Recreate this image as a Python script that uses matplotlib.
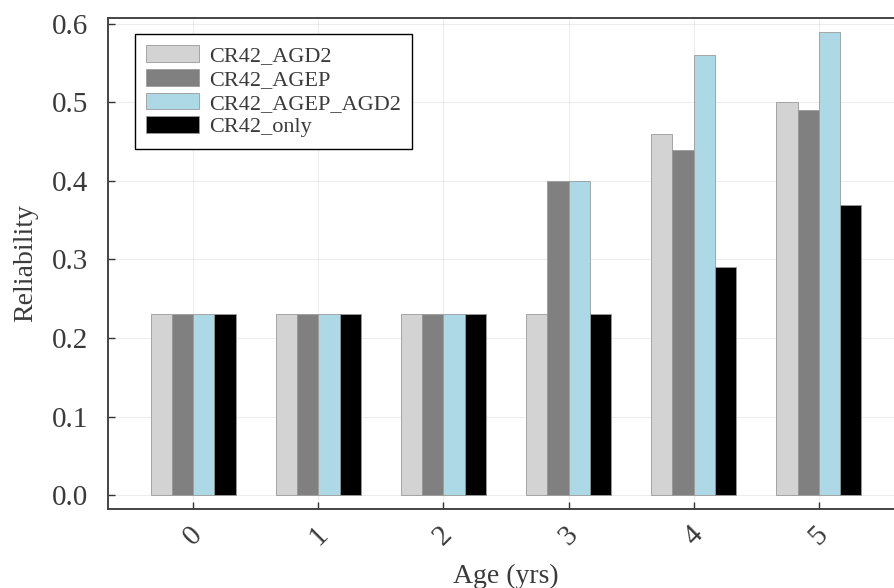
import matplotlib
matplotlib.use("Agg")
import matplotlib.pyplot as plt
import numpy as np

# data
ages = [0, 1, 2, 3, 4, 5]
series_names = ["CR42_AGD2", "CR42_AGEP", "CR42_AGEP_AGD2", "CR42_only"]
cr42_agd2 = [0.23, 0.23, 0.23, 0.23, 0.46, 0.50]
cr42_agep = [0.23, 0.23, 0.23, 0.40, 0.44, 0.49]
cr42_agep_agd2 = [0.23, 0.23, 0.23, 0.40, 0.56, 0.59]
cr42_only = [0.23, 0.23, 0.23, 0.23, 0.29, 0.37]
y_ticks = [0.0, 0.1, 0.2, 0.3, 0.4, 0.5, 0.6]

colors = ["#d3d3d3", "#808080", "#add8e6", "#000000"]
text_col = "#3a3a3a"
plt.rcParams['font.family'] = ['Liberation Serif', 'DejaVu Serif']

fig = plt.figure(figsize=(8.95, 5.88), dpi=100)
ax = fig.add_axes([108/895, 1 - 509/588, 796/895, 491/588])

x = np.arange(len(ages))
bw = 0.17
all_series = [cr42_agd2, cr42_agep, cr42_agep_agd2, cr42_only]
for i, (vals, name, c) in enumerate(zip(all_series, series_names, colors)):
    ax.bar(x + (i - 1.5) * bw, vals, width=bw, color=c, label=name,
           edgecolor="#9a9a9a", linewidth=0.6, zorder=3)

ax.set_xlim(-0.68, 5.68)
ax.set_ylim(-0.0178, 0.6076)
ax.set_xticks(x)
ax.set_xticklabels([str(a) for a in ages], rotation=45, ha='center', va='top')
ax.set_yticks(y_ticks)
ax.set_yticklabels([f"{v:.1f}" for v in y_ticks])

ax.grid(True, color="#000000", alpha=0.07, linewidth=0.8, zorder=0)
ax.tick_params(direction='in', length=5, width=1.0, colors="#333333",
               labelcolor=text_col, labelsize=21)
ax.tick_params(axis='x', pad=9)
ax.tick_params(axis='y', pad=14)
for side in ['left', 'bottom', 'top', 'right']:
    ax.spines[side].set_color("#444444")
    ax.spines[side].set_linewidth(1.4)

ax.set_xlabel("Age (yrs)", fontsize=20, color=text_col, labelpad=10)
ax.set_ylabel("Reliability", fontsize=20, color=text_col, labelpad=10)

leg = ax.legend(loc='upper left', bbox_to_anchor=(135/895, 1 - 34/588),
                bbox_transform=fig.transFigure, fontsize=16, frameon=True,
                fancybox=False, edgecolor="black", framealpha=1.0,
                handlelength=2.4, handleheight=0.78, handletextpad=0.45,
                labelspacing=0.12, borderpad=0.5, borderaxespad=0)
leg.get_frame().set_linewidth(1.0)
for t in leg.get_texts():
    t.set_color(text_col)

fig.savefig("out.png", dpi=100)
